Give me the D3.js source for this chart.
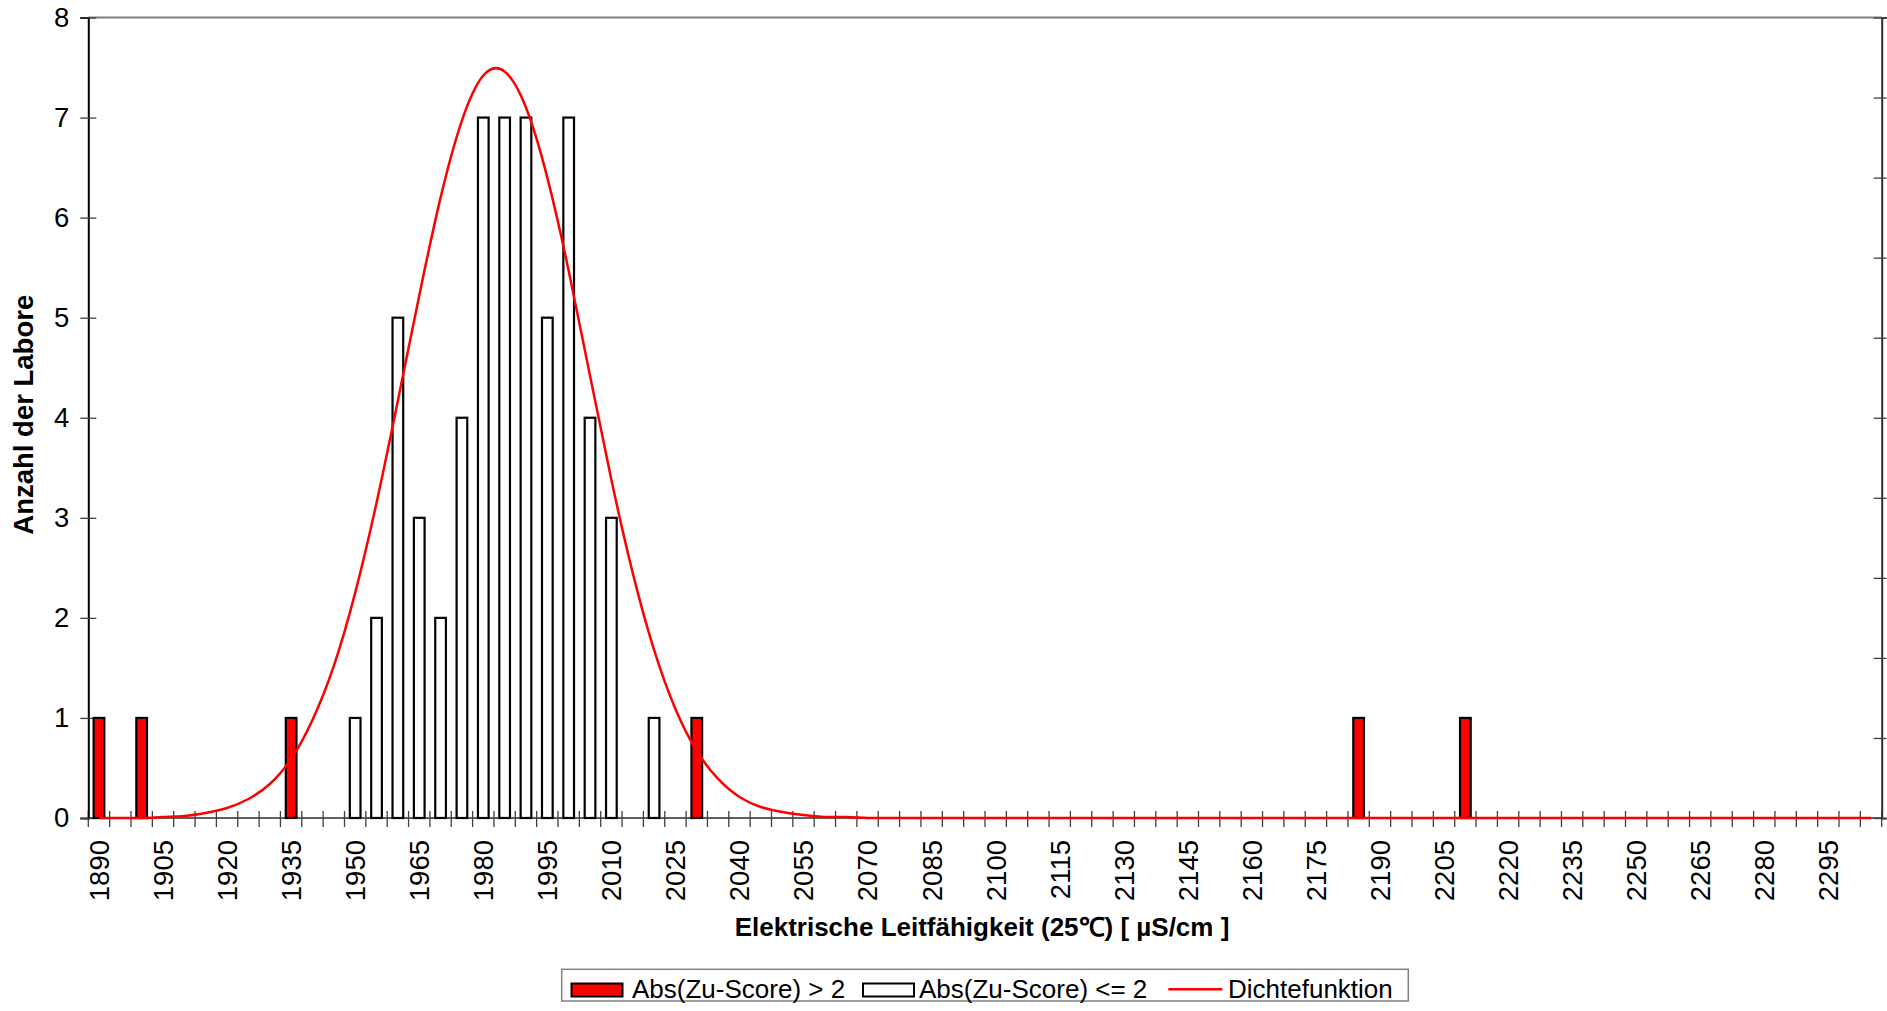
<!DOCTYPE html>
<html>
<head>
<meta charset="utf-8">
<script src="https://cdn.jsdelivr.net/npm/d3@7"></script>
<style>
  html, body { margin: 0; padding: 0; background: #fff; }
  svg { display: block; font-family: "Liberation Sans", Arial, sans-serif; }
</style>
</head>
<body>
<svg id="chart" width="1887" height="1011"></svg>
<script>
// ---------- data ----------
const categories = [
  1890,1895,1900,1905,1910,1915,1920,1925,1930,1935,1940,1945,
  1950,1955,1960,1965,1970,1975,1980,1985,1990,1995,2000,2005,
  2010,2015,2020,2025,2030,2035,2040,2045,2050,2055,2060,2065,
  2070,2075,2080,2085,2090,2095,2100,2105,2110,2115,2120,2125,
  2130,2135,2140,2145,2150,2155,2160,2165,2170,2175,2180,2185,
  2190,2195,2200,2205,2210,2215,2220,2225,2230,2235,2240,2245,
  2250,2255,2260,2265,2270,2275,2280,2285,2290,2295,2300,2305
];
// Abs(Zu-Score) > 2
const outlierCounts = [
  1,0,1,0,0,0,0,0,0,1,0,0,
  0,0,0,0,0,0,0,0,0,0,0,0,
  0,0,0,0,1,0,0,0,0,0,0,0,
  0,0,0,0,0,0,0,0,0,0,0,0,
  0,0,0,0,0,0,0,0,0,0,0,1,
  0,0,0,0,1,0,0,0,0,0,0,0,
  0,0,0,0,0,0,0,0,0,0,0,0
];
// Abs(Zu-Score) <= 2
const normalCounts = [
  0,0,0,0,0,0,0,0,0,0,0,0,
  1,2,5,3,2,4,7,7,7,5,7,4,
  3,0,1,0,0,0,0,0,0,0,0,0,
  0,0,0,0,0,0,0,0,0,0,0,0,
  0,0,0,0,0,0,0,0,0,0,0,0,
  0,0,0,0,0,0,0,0,0,0,0,0,
  0,0,0,0,0,0,0,0,0,0,0,0
];
// Dichtefunktion
const density = [
  0,0,0,0.01,0.02,0.05,0.10,0.19,0.34,0.59,0.98,1.52,
  2.25,3.15,4.17,5.22,6.20,6.97,7.42,7.46,7.10,6.40,5.47,4.42,
  3.38,2.45,1.68,1.09,0.67,0.39,0.21,0.11,0.06,0.03,0.01,0.01,
  0,0,0,0,0,0,0,0,0,0,0,0,
  0,0,0,0,0,0,0,0,0,0,0,0,
  0,0,0,0,0,0,0,0,0,0,0,0,
  0,0,0,0,0,0,0,0,0,0,0,0
];
const xTickLabels = [1890,1905,1920,1935,1950,1965,1980,1995,2010,2025,2040,2055,2070,2085,
  2100,2115,2130,2145,2160,2175,2190,2205,2220,2235,2250,2265,2280,2295];
const yTicks = [0,1,2,3,4,5,6,7,8];
const y2Ticks = [0,1,2,3,4,5,6,7,8,9,10];
const legendItems = ["Abs(Zu-Score) > 2", "Abs(Zu-Score) <= 2", "Dichtefunktion"];
const xTitle = "Elektrische Leitfähigkeit (25\u2103) [ µS/cm ]";
const yTitle = "Anzahl der Labore";

// ---------- layout ----------
const L = 88.3, R = 1881.7, T = 17.5, B = 818;
const svg = d3.select("#chart");
const FONT = 26, TICKFONT = 27.5;

const x = d3.scaleBand().domain(categories).range([L, R]).paddingInner(0).paddingOuter(0);
const y = d3.scaleLinear().domain([0, 8]).range([B, T]);
const y2 = d3.scaleLinear().domain([0, 10]).range([B, T]);
const bw = x.bandwidth();

// top border
svg.append("line").attr("x1", L).attr("x2", R).attr("y1", T).attr("y2", T)
  .attr("stroke", "#808080").attr("stroke-width", 2);

// x axis line
svg.append("line").attr("x1", L).attr("x2", R).attr("y1", B).attr("y2", B)
  .attr("stroke", "#606060").attr("stroke-width", 2);

// x boundary ticks
const bounds = categories.map(c => x(c)).concat([R]);
svg.append("g").selectAll("line").data(bounds).join("line")
  .attr("x1", d => d).attr("x2", d => d).attr("y1", B - 7).attr("y2", B + 9)
  .attr("stroke", "#404040").attr("stroke-width", 1.3);

// x tick labels
const xAxis = d3.axisBottom(x).tickValues(xTickLabels).tickSize(0).tickFormat(d => String(d));
const gx = svg.append("g").attr("transform", `translate(0,${B})`).call(xAxis);
gx.select(".domain").remove();
gx.selectAll("text")
  .attr("font-size", TICKFONT).attr("font-family", "Liberation Sans, Arial, sans-serif")
  .attr("fill", "#000")
  .attr("transform", "rotate(-90)")
  .attr("text-anchor", "end")
  .attr("x", -22).attr("y", 0).attr("dy", "0.36em");

// left y axis
const yAxis = d3.axisLeft(y).tickValues(yTicks).tickSize(8).tickPadding(12).tickFormat(d3.format("d"));
const gy = svg.append("g").attr("transform", `translate(${L},0)`).call(yAxis);
gy.select(".domain").attr("stroke", "#000").attr("stroke-width", 2);
gy.selectAll(".tick line").attr("x1", -8).attr("x2", 8).attr("stroke", "#404040").attr("stroke-width", 1.3);
gy.selectAll(".tick text").attr("font-size", TICKFONT).attr("font-family", "Liberation Sans, Arial, sans-serif")
  .attr("fill", "#000").attr("x", -19);

// right y axis (secondary, unlabeled)
const y2Axis = d3.axisRight(y2).tickValues(y2Ticks).tickSize(5).tickFormat("");
const gy2 = svg.append("g").attr("transform", `translate(${R},0)`).call(y2Axis);
gy2.select(".domain").attr("stroke", "#303030").attr("stroke-width", 2);
gy2.selectAll(".tick line").attr("x1", -8).attr("x2", 5).attr("stroke", "#404040").attr("stroke-width", 1.3);

// bars
const barW = bw * 0.5;
function drawBars(values, fill) {
  const data = categories.map((c, i) => ({ c, v: values[i] })).filter(d => d.v > 0);
  svg.append("g").selectAll("rect").data(data).join("rect")
    .attr("x", d => x(d.c) + (bw - barW) / 2)
    .attr("width", barW)
    .attr("y", d => y(d.v))
    .attr("height", d => y(0) - y(d.v))
    .attr("fill", fill).attr("stroke", "#000").attr("stroke-width", 2.2);
}
drawBars(outlierCounts, "#ff0000");
drawBars(normalCounts, "#ffffff");

// density line
const line = d3.line()
  .x((d, i) => x(categories[i]) + bw / 2)
  .y(d => y(Math.max(0, d)))
  .curve(d3.curveNatural);
svg.append("path").datum(density).attr("d", line)
  .attr("fill", "none").attr("stroke", "#ff0000").attr("stroke-width", 2.5);

// axis titles
svg.append("text").attr("x", (L + R) / 2 - 3).attr("y", 936)
  .attr("text-anchor", "middle").attr("font-size", FONT).attr("font-weight", "bold")
  .text(xTitle);
svg.append("text").attr("transform", `translate(33,${(T + B) / 2 - 3}) rotate(-90)`)
  .attr("text-anchor", "middle").attr("font-size", 27.5).attr("font-weight", "bold")
  .text(yTitle);

// legend
const lg = svg.append("g");
lg.append("rect").attr("x", 561.7).attr("y", 969.3).attr("width", 1408.3 - 561.7).attr("height", 1001 - 969.3)
  .attr("fill", "#fff").attr("stroke", "#808080").attr("stroke-width", 1.5);
const ly = 997.5;
lg.append("rect").attr("x", 571.5).attr("y", 983.5).attr("width", 51).attr("height", 13)
  .attr("fill", "#ff0000").attr("stroke", "#000").attr("stroke-width", 2);
lg.append("text").attr("x", 632).attr("y", ly).attr("font-size", FONT).text(legendItems[0]);
lg.append("rect").attr("x", 863).attr("y", 983.5).attr("width", 51).attr("height", 13)
  .attr("fill", "#ffffff").attr("stroke", "#000").attr("stroke-width", 2);
lg.append("text").attr("x", 919).attr("y", ly).attr("font-size", FONT).text(legendItems[1]);
lg.append("line").attr("x1", 1168.3).attr("x2", 1222.3).attr("y1", 989.3).attr("y2", 989.3)
  .attr("stroke", "#ff0000").attr("stroke-width", 2.5);
lg.append("text").attr("x", 1228).attr("y", ly).attr("font-size", FONT).text(legendItems[2]);
</script>
</body>
</html>
